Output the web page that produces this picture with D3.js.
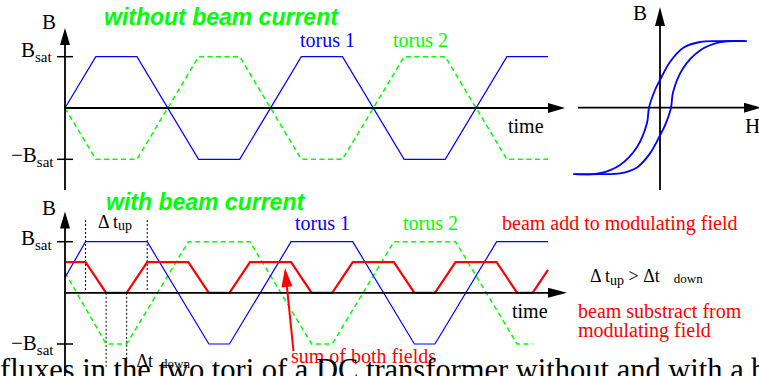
<!DOCTYPE html>
<html>
<head>
  <meta charset="utf-8">
  <title>DC transformer fluxes</title>
  <style>
    body { margin: 0; background: #fff; }
    svg { display: block; }
    .serif { font-family: "Liberation Serif", "Times New Roman", serif; }
    .title { font-family: "Liberation Sans", Arial, sans-serif; font-weight: bold; font-style: italic; }
  </style>
</head>
<body>
  <script src="https://cdn.jsdelivr.net/npm/d3@7"></script>
  <script>
    // ---- data (time in quarter-period units, B in units of Bsat) ----
    // without beam current
    var tTop = [0, 0.6, 1.4, 2.6, 3.4, 4.6, 5.4, 6.6, 7.4, 8.6, 9.4];
    var torus1Top = [0, 1, 1, -1, -1, 1, 1, -1, -1, 1, 1];
    var torus2Top = [0, -1, -1, 1, 1, -1, -1, 1, 1, -1, -1];

    // with beam current
    var tTorus1Beam = [0, 0.4, 1.6, 2.8, 3.2, 4.4, 5.6, 6.8, 7.2, 8.4, 9.4];
    var torus1Beam = [0.3, 1, 1, -1, -1, 1, 1, -1, -1, 1, 1];
    var tTorus2Beam = [0, 0.8, 1.2, 2.4, 3.6, 4.8, 5.2, 6.4, 7.6, 8.8, 9.1];
    var torus2Beam = [0.4, -1, -1, 1, 1, -1, -1, 1, 1, -1, -1];
    var tSum = [0, 0.4, 0.8, 1.2, 1.6, 2.4, 2.8, 3.2, 3.6, 4.4, 4.8, 5.2, 5.6, 6.4, 6.8, 7.2, 7.6, 8.4, 8.8, 9.1, 9.4];
    var sumBeam = [0.6, 0.6, 0, 0, 0.6, 0.6, 0, 0, 0.6, 0.6, 0, 0, 0.6, 0.6, 0, 0, 0.6, 0.6, 0, 0, 0.45];
    var tUpMarks = [0.4, 1.6];     // dotted lines for delta t up
    var tDownMarks = [0.8, 1.2];   // dotted lines for delta t down

    // B axis ticks
    var bTicks = [1, -1];

    // hysteresis loop (H, B normalised)
    var hystUpH = [-0.99, -0.70, -0.465, -0.267, -0.151, -0.128, -0.058, 0, 0.116, 0.267, 0.465, 0.70, 1.01];
    var hystUpB = [-1.0, -0.985, -0.86, -0.59, -0.23, 0, 0.266, 0.417, 0.687, 0.898, 0.988, 1.0, 1.0];
    var hystLoH = [-1.01, -0.70, -0.465, -0.267, -0.116, 0, 0.058, 0.128, 0.151, 0.267, 0.465, 0.70, 0.99];
    var hystLoB = [-1.0, -1.0, -0.988, -0.898, -0.687, -0.417, -0.266, 0, 0.23, 0.59, 0.86, 0.985, 1.0];

    var width = 759, height = 376;
    var svg = d3.select("body").append("svg")
      .attr("width", width)
      .attr("height", height);

    var BLUE = "#0000ff", GREEN = "#00ff00", RED = "#ff0000";

    // scales
    var x = d3.scaleLinear().domain([0, 9.4]).range([65, 548]);
    var yTop = d3.scaleLinear().domain([-1, 1]).range([159.3, 56.7]);
    var yBot = d3.scaleLinear().domain([-1, 1]).range([344, 241.7]);
    var xH = d3.scaleLinear().domain([-1, 1]).range([574, 746]);
    var yH = d3.scaleLinear().domain([-1, 1]).range([174.2, 41.2]);

    function arrowHead(g, x1, y1, x2, y2, len, w, color) {
      var dx = x2 - x1, dy = y2 - y1, L = Math.sqrt(dx * dx + dy * dy);
      var ux = dx / L, uy = dy / L;
      var bx = x2 - ux * len, by = y2 - uy * len;
      var pts = [[x2, y2], [bx - uy * w / 2, by + ux * w / 2], [bx + uy * w / 2, by - ux * w / 2]];
      g.append("polygon").attr("points", pts.map(p => p.join(",")).join(" ")).attr("fill", color);
    }
    function arrowLine(g, x1, y1, x2, y2, len, w, color, sw) {
      var dx = x2 - x1, dy = y2 - y1, L = Math.sqrt(dx * dx + dy * dy);
      g.append("line")
        .attr("x1", x1).attr("y1", y1)
        .attr("x2", x2 - dx / L * (len - 2)).attr("y2", y2 - dy / L * (len - 2))
        .attr("stroke", color).attr("stroke-width", sw);
      arrowHead(g, x1, y1, x2, y2, len, w, color);
    }

    function wave(g, ts, vs, yScale, color, sw, dash) {
      var line = d3.line().x(d => x(d[0])).y(d => yScale(d[1]));
      g.append("path")
        .datum(ts.map((t, i) => [t, vs[i]]))
        .attr("d", line)
        .attr("fill", "none")
        .attr("stroke", color)
        .attr("stroke-width", sw)
        .attr("stroke-dasharray", dash || null)
        .attr("stroke-linejoin", "miter");
    }

    function bLabels(g, yScale, posOffset, negOffset) {
      var ax = x(0);
      g.selectAll("line.tick").data(bTicks).enter().append("line")
        .attr("x1", ax - 8).attr("x2", ax + 8)
        .attr("y1", d => yScale(d)).attr("y2", d => yScale(d))
        .attr("stroke", "#000").attr("stroke-width", 1.5);
      bTicks.forEach(function (v) {
        var t = g.append("text").attr("class", "serif").attr("font-size", 21)
          .attr("x", v > 0 ? 21 : 11).attr("y", yScale(v) + (v > 0 ? posOffset : negOffset));
        t.append("tspan").text(v > 0 ? "B" : "\u2212B");
        t.append("tspan").attr("font-size", 15).attr("dy", 4.5).text("sat");
      });
    }

    // ---------------- top panel: without beam current ----------------
    var topG = svg.append("g");
    wave(topG, tTop, torus2Top, yTop, GREEN, 1.5, "5,3.5");
    wave(topG, tTop, torus1Top, yTop, BLUE, 1.2);
    arrowLine(topG, x(0), 190, x(0), 28, 17, 10, "#000", 1.8);
    arrowLine(topG, x(0) - 1, yTop(0), 565, yTop(0), 17, 10, "#000", 1.8);
    bLabels(topG, yTop, 0.6, 3);
    topG.append("text").attr("class", "serif").attr("font-size", 21).attr("x", 42).attr("y", 29).text("B");
    topG.append("text").attr("class", "serif").attr("font-size", 20).attr("x", 508).attr("y", 133).text("time");
    topG.append("text").attr("class", "serif").attr("font-size", 20).attr("x", 300).attr("y", 47)
      .attr("fill", BLUE).text("torus 1");
    topG.append("text").attr("class", "serif").attr("font-size", 20).attr("x", 393).attr("y", 47)
      .attr("fill", GREEN).text("torus 2");
    topG.append("text").attr("class", "title").attr("font-size", 23).attr("x", 104).attr("y", 25)
      .attr("fill", GREEN).text("without beam current");

    // ---------------- hysteresis ----------------
    var hy = svg.append("g");
    arrowLine(hy, xH(0), 190, xH(0), 7, 19, 10, "#000", 1.8);
    arrowLine(hy, 578, yH(0), 761, yH(0), 17, 10, "#000", 1.8);
    var hLine = d3.line().x(d => xH(d[0])).y(d => yH(d[1])).curve(d3.curveCatmullRom.alpha(0.5));
    hy.append("path").datum(hystUpH.map((h, i) => [h, hystUpB[i]]))
      .attr("d", hLine).attr("fill", "none").attr("stroke", BLUE).attr("stroke-width", 1.8);
    hy.append("path").datum(hystLoH.map((h, i) => [h, hystLoB[i]]))
      .attr("d", hLine).attr("fill", "none").attr("stroke", BLUE).attr("stroke-width", 1.8);
    hy.append("text").attr("class", "serif").attr("font-size", 21).attr("x", 633).attr("y", 20).text("B");
    hy.append("text").attr("class", "serif").attr("font-size", 21).attr("x", 745).attr("y", 133).text("H");

    // ---------------- bottom panel: with beam current ----------------
    var bot = svg.append("g");
    // dotted helper lines
    bot.selectAll("line.up").data(tUpMarks).enter().append("line")
      .attr("x1", d => x(d)).attr("x2", d => x(d))
      .attr("y1", 220).attr("y2", yBot(0))
      .attr("stroke", "#000").attr("stroke-width", 1).attr("stroke-dasharray", "2,2");
    bot.selectAll("line.down").data(tDownMarks).enter().append("line")
      .attr("x1", d => x(d)).attr("x2", d => x(d))
      .attr("y1", yBot(0)).attr("y2", 368)
      .attr("stroke", "#000").attr("stroke-width", 1).attr("stroke-dasharray", "2,2");

    wave(bot, tTorus2Beam, torus2Beam, yBot, GREEN, 1.5, "5,3.5");
    wave(bot, tTorus1Beam, torus1Beam, yBot, BLUE, 1.2);
    wave(bot, tSum, sumBeam, yBot, RED, 2.2);
    arrowLine(bot, x(0), 376, x(0), 211.5, 17, 10, "#000", 1.8);
    arrowLine(bot, x(0) - 1, yBot(0), 567, yBot(0), 19, 10, "#000", 1.8);
    bLabels(bot, yBot, 3.3, 6);
    bot.append("text").attr("class", "serif").attr("font-size", 21).attr("x", 42).attr("y", 215).text("B");
    bot.append("text").attr("class", "serif").attr("font-size", 20).attr("x", 512).attr("y", 318).text("time");
    bot.append("text").attr("class", "serif").attr("font-size", 20).attr("x", 295).attr("y", 230)
      .attr("fill", BLUE).text("torus 1");
    bot.append("text").attr("class", "serif").attr("font-size", 20).attr("x", 403).attr("y", 230)
      .attr("fill", GREEN).text("torus 2");
    bot.append("text").attr("class", "title").attr("font-size", 23).attr("x", 106).attr("y", 210)
      .attr("fill", GREEN).text("with beam current");

    // delta t labels
    var dtUp = bot.append("text").attr("class", "serif").attr("font-size", 18).attr("x", 98).attr("y", 228);
    dtUp.append("tspan").text("\u0394 t");
    dtUp.append("tspan").attr("font-size", 14).attr("dy", 2).text("up");
    var dtDown = bot.append("text").attr("class", "serif").attr("font-size", 18).attr("x", 136.5).attr("y", 367);
    dtDown.append("tspan").text("\u0394t");
    dtDown.append("tspan").attr("font-size", 13).attr("dx", 8).attr("dy", 1).text("down");

    var cmp = bot.append("text").attr("class", "serif").attr("font-size", 18).attr("x", 590).attr("y", 282);
    cmp.append("tspan").text("\u0394 t");
    cmp.append("tspan").attr("font-size", 14).attr("dy", 2.5).text("up");
    cmp.append("tspan").attr("dy", -2.5).text(" > \u0394t");
    cmp.append("tspan").attr("font-size", 13).attr("dx", 14).attr("dy", 1).text("down");

    bot.append("text").attr("class", "serif").attr("font-size", 20).attr("x", 502).attr("y", 230)
      .attr("fill", RED).text("beam add to modulating field");
    bot.append("text").attr("class", "serif").attr("font-size", 20).attr("x", 578).attr("y", 318)
      .attr("fill", RED).text("beam substract from");
    bot.append("text").attr("class", "serif").attr("font-size", 20).attr("x", 578).attr("y", 337)
      .attr("fill", RED).text("modulating field");

    // red pointer to the sum curve
    arrowLine(bot, 293.5, 351, 285, 268, 19, 11, RED, 2);
    bot.append("text").attr("class", "serif").attr("font-size", 20).attr("x", 291).attr("y", 363)
      .attr("fill", RED).text("sum of both fields");

    // caption cut at the bottom edge
    svg.append("text").attr("class", "serif").attr("font-size", 30.5).attr("x", 0).attr("y", 380)
      .attr("fill", "#000").text("fluxes in the two tori of a DC transformer without and with a beam current");
  </script>
</body>
</html>
